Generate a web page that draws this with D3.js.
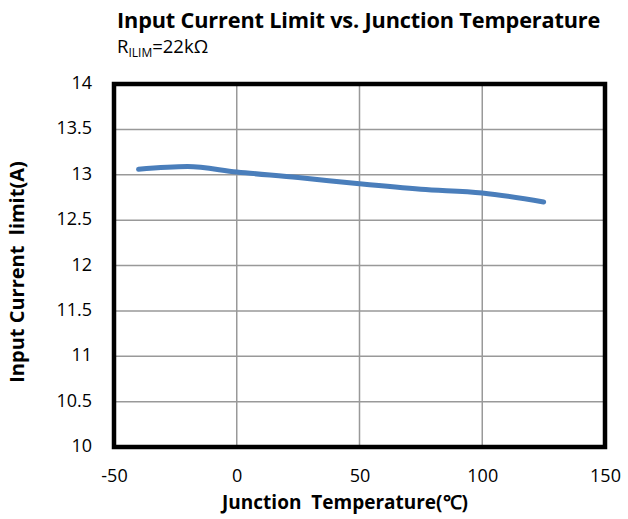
<!DOCTYPE html>
<html><head><meta charset="utf-8">
<script src="https://cdn.jsdelivr.net/npm/d3@7"></script>
<style>body{margin:0;background:#fff}svg{display:block}text{white-space:pre}</style>
</head><body><svg id="c" width="628" height="519"></svg>
<script>
const temps = [-40, -20, 0, 25, 50, 75, 100, 125];
const currents = [13.06, 13.09, 13.03, 12.97, 12.90, 12.84, 12.80, 12.70];
const xTicks = [-50, 0, 50, 100, 150];
const yTicks = [10, 10.5, 11, 11.5, 12, 12.5, 13, 13.5, 14];
const title = "Input Current Limit vs. Junction Temperature";
const xLabel = "Junction  Temperature(\u2103)";
const yLabel = "Input Current  limit(A)";

const svg = d3.select("#c");
const font = "'Open Sans',sans-serif";
const m = {l:114, r:605, t:84, b:447};
const x = d3.scaleLinear().domain([-50,150]).range([m.l,m.r]);
const y = d3.scaleLinear().domain([10,14]).range([m.b,m.t]);

// grid
svg.append("g").selectAll("line").data(xTicks.slice(1,-1)).join("line")
  .attr("x1",d=>x(d)).attr("x2",d=>x(d)).attr("y1",m.t).attr("y2",m.b)
  .attr("stroke","#999").attr("stroke-width",1.5);
svg.append("g").selectAll("line").data(yTicks.slice(1,-1)).join("line")
  .attr("y1",d=>y(d)).attr("y2",d=>y(d)).attr("x1",m.l).attr("x2",m.r)
  .attr("stroke","#999").attr("stroke-width",1.5);

// tick labels via d3 axes
const xa = svg.append("g").attr("transform",`translate(0,${m.b})`)
  .call(d3.axisBottom(x).tickValues(xTicks).tickSize(0).tickPadding(22).tickFormat(d=>String(d)));
const ya = svg.append("g").attr("transform",`translate(${m.l},0)`)
  .call(d3.axisLeft(y).tickValues(yTicks).tickSize(0).tickPadding(22).tickFormat(d=>String(d)));
[xa,ya].forEach(g=>{g.select(".domain").remove();
  g.selectAll("text").attr("font-family",font).attr("font-size",18).attr("fill","#000");});
ya.selectAll("text").attr("dy","0.25em");

// frame
svg.append("rect").attr("x",m.l).attr("y",m.t).attr("width",m.r-m.l).attr("height",m.b-m.t)
  .attr("fill","none").attr("stroke","#000").attr("stroke-width",4.5);

// line
const data = temps.map((t,i)=>({t, v:currents[i]}));
svg.append("path").datum(data)
  .attr("d",d3.line().x(d=>x(d.t)).y(d=>y(d.v)).curve(d3.curveMonotoneX))
  .attr("fill","none").attr("stroke","#4a7ebb").attr("stroke-width",5).attr("stroke-linecap","round");

// titles
svg.append("text").attr("x",117).attr("y",28).attr("font-family",font).attr("font-weight","bold")
  .attr("font-size",21.7).attr("letter-spacing",-0.15).text(title);
const sub = svg.append("text").attr("x",117).attr("y",53).attr("font-family",font).attr("font-size",18.5);
sub.append("tspan").text("R");
sub.append("tspan").attr("font-size",12).attr("dy",4).text("ILIM");
sub.append("tspan").attr("dy",-4).text("=22k\u03A9");

svg.append("text").attr("x",345).attr("y",509).attr("text-anchor","middle").attr("font-family",font)
  .attr("font-weight","bold").attr("font-size",19).text(xLabel);
svg.append("text").attr("transform","translate(24,272) rotate(-90)").attr("text-anchor","middle")
  .attr("font-family",font).attr("font-weight","bold").attr("font-size",20).text(yLabel);
</script></body></html>
